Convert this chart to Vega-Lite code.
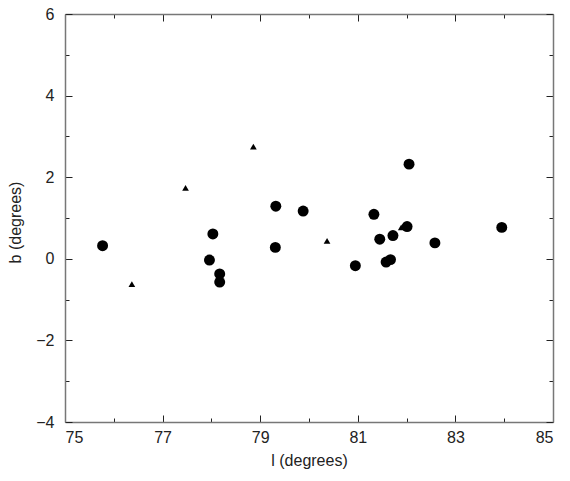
{
  "$schema": "https://vega.github.io/schema/vega-lite/v6.json",
  "width": 488,
  "height": 408,
  "autosize": {"type": "none"},
  "padding": {"left": 65, "top": 14, "right": 17, "bottom": 59},
  "background": "white",
  "config": {
    "view": {"stroke": null},
    "axis": {
      "labelFont": "Liberation Sans",
      "titleFont": "Liberation Sans",
      "labelFontSize": 16,
      "titleFontSize": 16,
      "titleFontWeight": "normal",
      "labelColor": "#222222",
      "titleColor": "#222222",
      "domainColor": "#777777",
      "domainWidth": 1.5,
      "tickColor": "#222222",
      "tickWidth": 1,
      "grid": false
    }
  },
  "data": {
    "values": [
      {"l": 75.77, "b": 0.32, "type": "circle"},
      {"l": 76.37, "b": -0.62, "type": "triangle"},
      {"l": 77.47, "b": 1.74, "type": "triangle"},
      {"l": 78.86, "b": 2.75, "type": "triangle"},
      {"l": 78.03, "b": 0.61, "type": "circle"},
      {"l": 77.96, "b": -0.03, "type": "circle"},
      {"l": 78.17, "b": -0.37, "type": "circle"},
      {"l": 78.17, "b": -0.57, "type": "circle"},
      {"l": 79.32, "b": 1.29, "type": "circle"},
      {"l": 79.31, "b": 0.28, "type": "circle"},
      {"l": 79.88, "b": 1.17, "type": "circle"},
      {"l": 80.37, "b": 0.44, "type": "triangle"},
      {"l": 80.95, "b": -0.17, "type": "circle"},
      {"l": 81.33, "b": 1.09, "type": "circle"},
      {"l": 81.45, "b": 0.48, "type": "circle"},
      {"l": 81.58, "b": -0.08, "type": "circle"},
      {"l": 81.67, "b": -0.02, "type": "circle"},
      {"l": 81.72, "b": 0.57, "type": "circle"},
      {"l": 81.89, "b": 0.77, "type": "triangle"},
      {"l": 82.01, "b": 0.79, "type": "circle"},
      {"l": 82.05, "b": 2.32, "type": "circle"},
      {"l": 82.58, "b": 0.39, "type": "circle"},
      {"l": 83.95, "b": 0.77, "type": "circle"}
    ]
  },
  "layer": [
    {
      "mark": {"type": "point", "filled": true, "opacity": 1, "color": "black"},
      "encoding": {
        "x": {
          "field": "l", "type": "quantitative",
          "scale": {"domain": [75, 85], "nice": false, "zero": false},
          "axis": {
            "title": "l (degrees)",
            "values": [75, 76, 77, 78, 79, 80, 81, 82, 83, 84, 85],
            "labelExpr": "datum.value % 2 == 1 ? datum.label : ''",
            "tickSize": {"condition": {"test": "datum.value % 2 == 1", "value": -7}, "value": -4},
            "labelPadding": 14,
            "titlePadding": 7
          }
        },
        "y": {
          "field": "b", "type": "quantitative",
          "scale": {"domain": [-4, 6], "nice": false, "zero": false},
          "axis": {
            "title": "b (degrees)",
            "values": [-4, -3, -2, -1, 0, 1, 2, 3, 4, 5, 6],
            "labelExpr": "datum.value % 2 == 0 ? datum.label : ''",
            "tickSize": {"condition": {"test": "datum.value % 2 == 0", "value": -7}, "value": -4},
            "labelPadding": 18,
            "titlePadding": 12,
            "titleY": 208
          }
        },
        "shape": {
          "field": "type", "type": "nominal",
          "scale": {"domain": ["circle", "triangle"], "range": ["circle", "triangle-up"]},
          "legend": null
        },
        "size": {
          "field": "type", "type": "nominal",
          "scale": {"domain": ["circle", "triangle"], "range": [120, 45]},
          "legend": null
        }
      }
    },
    {
      "mark": {"type": "point", "opacity": 0},
      "encoding": {
        "x": {
          "field": "l", "type": "quantitative",
          "scale": {"domain": [75, 85], "nice": false, "zero": false},
          "axis": {
            "orient": "top", "title": null, "labels": false,
            "values": [75, 76, 77, 78, 79, 80, 81, 82, 83, 84, 85],
            "tickSize": {"condition": {"test": "datum.value % 2 == 1", "value": -7}, "value": -4}
          }
        },
        "y": {
          "field": "b", "type": "quantitative",
          "scale": {"domain": [-4, 6], "nice": false, "zero": false},
          "axis": {
            "orient": "right", "title": null, "labels": false,
            "values": [-4, -3, -2, -1, 0, 1, 2, 3, 4, 5, 6],
            "tickSize": {"condition": {"test": "datum.value % 2 == 0", "value": -7}, "value": -4}
          }
        }
      }
    }
  ],
  "resolve": {"axis": {"x": "independent", "y": "independent"}}
}
